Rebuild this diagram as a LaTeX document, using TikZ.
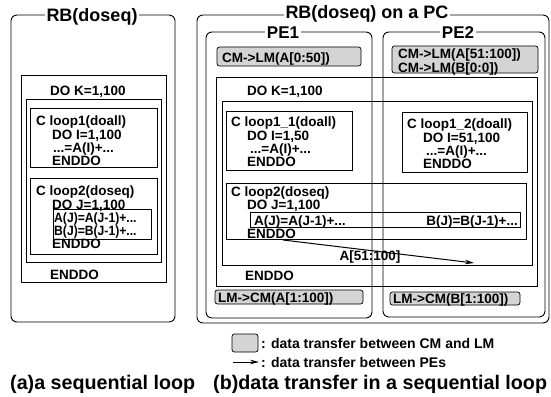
\documentclass[tikz,border=0pt]{standalone}
\usepackage{fontspec}
\setmainfont{Liberation Sans}
\usetikzlibrary{arrows.meta}
\begin{document}
\begin{tikzpicture}[x=1pt,y=-1pt,
  box/.style={draw, line width=0.8pt},
  rb/.style={draw, line width=0.9pt, rounded corners=6pt},
  shadebox/.style={draw, line width=0.7pt, rounded corners=2.5pt, fill=black!17},
  code/.style={anchor=base west, inner sep=0pt, font=\fontsize{13.5}{15}\selectfont\bfseries},
  ttl/.style={anchor=base, fill=white, inner sep=1.5pt, font=\fontsize{18}{20}\selectfont\bfseries},
  pettl/.style={anchor=base, fill=white, inner sep=1.5pt, font=\fontsize{17}{19}\selectfont\bfseries},
  captxt/.style={anchor=base west, inner sep=0pt, font=\fontsize{19.7}{22}\selectfont\bfseries},
  legtxt/.style={anchor=base west, inner sep=0pt, font=\fontsize{14}{16}\selectfont\bfseries},
  xfer/.style={-{Stealth[length=9pt,width=4.5pt]}, line width=1pt}
]
\fill[white] (0,0) rectangle (551,396);
\useasboundingbox (0,0) rectangle (551,396);

% ---------------- (a) ----------------
\draw[rb] (11,15) rectangle (175,322);
\draw[box] (21,75) rectangle (166,282);
\draw[box] (26,99) rectangle (161,262);
\draw[box] (30,108) rectangle (157,167);
\draw[box] (30,178) rectangle (157,254);
\draw[box] (53,209) rectangle (151,239);
\node[ttl] (rba) at (92,22) {RB(doseq)};

\node[code] (ak) at (50,95) {DO K=1,100};
\node[code] (al1) at (36,125.5) {C loop1(doall)};
\node[code] (al2) at (52,139) {DO I=1,100};
\node[code] (al3) at (53,152) {...=A(I)+...};
\node[code] (al4) at (52,165.5) {ENDDO};
\node[code] (am1) at (36,195.5) {C loop2(doseq)};
\node[code] (am2) at (52,209) {DO J=1,100};
\node[code] (am3) at (54,222.5) {\scalebox{0.9}[1]{A(J)=A(J-1)+...}};
\node[code] (am4) at (54,235.5) {\scalebox{0.9}[1]{B(J)=B(J-1)+...}};
\node[code] (am5) at (52,248.5) {ENDDO};
\node[code] (aend) at (50,279) {ENDDO};

\node[captxt] (capa) at (10,389) {(a)a sequential loop};

% ---------------- (b) ----------------
\draw[rb] (197,15) rectangle (549,323);
\draw[rb] (206,32) rectangle (372,318);
\draw[rb] (383,32) rectangle (545,317);
\node[ttl] (rbb) at (367,19) {RB(doseq) on a PC};
\node[pettl] (pe1) at (283,38) {PE1};
\node[pettl] (pe2) at (458,38) {PE2};

\draw[shadebox] (217,47) rectangle (361,66);
\node[code] (c1) at (222,62.5) {CM->LM(A[0:50])};
\draw[shadebox] (392,46) rectangle (538,73);
\node[code] (c2) at (398,59) {CM->LM(A[51:100])};
\node[code] (c3) at (398,72) {CM->LM(B[0:0])};

\draw[box] (216,77) rectangle (537,286);
\draw[box] (222,101) rectangle (532,265);
\draw[box] (226,111) rectangle (352,170);
\draw[box] (402,112) rectangle (527,172);
\draw[box] (226,183) rectangle (526,239.5);
\draw[box] (250,212) rectangle (520,227.5);

\node[code] (bk) at (247,95) {DO K=1,100};
\node[code] (b11) at (231,126) {C loop1\_1(doall)};
\node[code] (b12) at (247,140) {DO I=1,50};
\node[code] (b13) at (250,153) {...=A(I)+...};
\node[code] (b14) at (247,166) {ENDDO};
\node[code] (b21) at (407,128) {C loop1\_2(doall)};
\node[code] (b22) at (423,142) {DO I=51,100};
\node[code] (b23) at (426,155) {...=A(I)+...};
\node[code] (b24) at (423,168) {ENDDO};
\node[code] (bm1) at (231,196) {C loop2(doseq)};
\node[code] (bm2) at (247,209.5) {DO J=1,100};
\node[code] (bm3) at (254,225) {A(J)=A(J-1)+...};
\node[code, anchor=base east] (bm4) at (518,225) {B(J)=B(J-1)+...};
\node[code] (bm5) at (247,238.5) {ENDDO};
\node[code] (bend) at (245,280) {ENDDO};

\coordinate (as) at (283,240);
\coordinate (ae) at (474,263);
\draw[xfer] (as) -- (ae);
\node[code, anchor=center] (alab) at (370,257) {A[51:100]};

\draw[shadebox] (215,290) rectangle (363,304);
\node[code] (d1) at (218,302) {LM->CM(A[1:100])};
\draw[shadebox] (390,292) rectangle (520,305);
\node[code] (d2) at (393,303) {LM->CM(B[1:100])};

% legend
\draw[shadebox] (232,334) rectangle (258,352);
\node[legtxt] (lg1) at (261,348) {: data transfer between CM and LM};
\coordinate (la1) at (233,362);
\coordinate (la2) at (259,362);
\draw[xfer, line width=0.8pt] (la1) -- (la2);
\node[legtxt] (lg2) at (261,367) {: data transfer between PEs};

\node[captxt] (capb) at (213,389) {(b)data transfer in a sequential loop};
\end{tikzpicture}
\end{document}
